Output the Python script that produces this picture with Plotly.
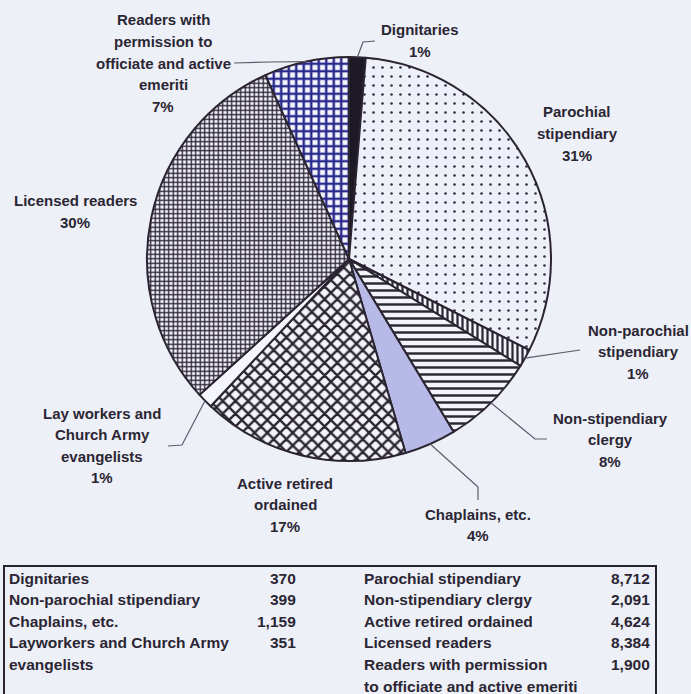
import math
import plotly.graph_objects as go

W, H = 691, 694

# Slice data, clockwise from 12 o'clock
categories = [
    "Dignitaries",
    "Parochial stipendiary",
    "Non-parochial stipendiary",
    "Non-stipendiary clergy",
    "Chaplains, etc.",
    "Active retired ordained",
    "Lay workers and Church Army evangelists",
    "Licensed readers",
    "Readers with permission to officiate and active emeriti",
]
values = [370, 8712, 399, 2091, 1159, 4624, 351, 8384, 1900]
pct_labels = ["1%", "31%", "1%", "8%", "4%", "17%", "1%", "30%", "7%"]

# Wrapped label text for each slice
label_lines = [
    ["Dignitaries"],
    ["Parochial", "stipendiary"],
    ["Non-parochial", "stipendiary"],
    ["Non-stipendiary", "clergy"],
    ["Chaplains, etc."],
    ["Active retired", "ordained"],
    ["Lay workers and", "Church Army", "evangelists"],
    ["Licensed readers"],
    ["Readers with", "permission to", "officiate and active", "emeriti"],
]

# Table beneath the pie (two columns)
table_left_names = ["Dignitaries", "Non-parochial stipendiary", "Chaplains, etc.",
                    "Layworkers and Church Army", "evangelists"]
table_left_values = [370, 399, 1159, 351, None]
table_right_names = ["Parochial stipendiary", "Non-stipendiary clergy",
                     "Active retired ordained", "Licensed readers",
                     "Readers with permission", "to officiate and active emeriti"]
table_right_values = [8712, 2091, 4624, 8384, 1900, None]

# ---- styling ----
BG = "#eef0f8"
INK = "#2b2633"
LEAD = "#5f5a6c"
FONT = "Liberation Sans, Arial, sans-serif"

# pie geometry in pixels
CX, CY, R = 349, 259, 202

fill_colors = ["#1d1a26", "#eef0f8", "#f3f4fa", "#f3f4fa", "#b7bae6",
               "#f3f4fa", "#f5f6fb", "#f3f4fa", "#f6f7fc"]
pattern_shapes = ["", ".", "|", "-", "", "x", "", "+", "+"]
pattern_fg = [INK, "#34304a", INK, INK, INK, "#2a2430", INK, "#2a2233", "#29298e"]
pattern_size = [8, 9, 5, 7, 8, 9, 8, 4.5, 7.5]
pattern_solid = [0.3, 0.07, 0.45, 0.35, 0.3, 0.45, 0.3, 0.5, 0.55]


def px(x):
    return x / W


def py(y):
    return 1 - y / H


fig = go.Figure()
fig.add_trace(go.Pie(
    labels=categories,
    values=values,
    sort=False,
    direction="clockwise",
    rotation=0,
    textinfo="none",
    hoverinfo="label+value+percent",
    showlegend=False,
    domain=dict(x=[px(CX - R), px(CX + R)], y=[py(CY + R), py(CY - R)]),
    marker=dict(
        colors=fill_colors,
        line=dict(color="#2a2430", width=2),
        pattern=dict(shape=pattern_shapes, fgcolor=pattern_fg,
                     bgcolor=fill_colors, size=pattern_size,
                     solidity=pattern_solid),
    ),
))

# label anchor (centre x, first-line y) and leader-line waypoints per slice
label_pos = [(420, 30), (577, 112), (638, 330), (610, 418), (478, 514),
             (285, 483), (102, 413), (75, 201), (163, 20)]
leader_tail = [
    [(363, 42), (375, 41)],
    None,
    [(580, 350)],
    [(535, 439), (547, 439)],
    [(478, 487), (478, 500)],
    None,
    [(182, 445), (168, 446)],
    None,
    [(270, 62), (234, 63)],
]

LINE_STEP = 21.6
annotations = []
shapes = []
total = sum(values)
cum = 0
for i, v in enumerate(values):
    mid = (cum + v / 2) / total * 2 * math.pi
    cum += v
    lx, ly = label_pos[i]
    lines = label_lines[i] + [pct_labels[i]]
    for k, t in enumerate(lines):
        annotations.append(dict(
            x=px(lx), y=py(ly + k * LINE_STEP), xref="paper", yref="paper",
            text=f"<b>{t}</b>", showarrow=False, xanchor="center", yanchor="middle",
            font=dict(family=FONT, size=15, color=INK),
        ))
    if leader_tail[i]:
        ex = CX + R * math.sin(mid)
        ey = CY - R * math.cos(mid)
        pts = [(ex, ey)] + leader_tail[i]
        path = "M " + " L ".join(f"{px(a):.5f},{py(b):.5f}" for a, b in pts)
        shapes.append(dict(type="path", path=path, xref="paper", yref="paper",
                           line=dict(color=LEAD, width=1.2)))

# table box
shapes.append(dict(type="rect", xref="paper", yref="paper",
                   x0=px(4), x1=px(656), y0=py(702), y1=py(566),
                   line=dict(color="#2a2430", width=2), fillcolor="rgba(0,0,0,0)"))

ROW0, ROW_STEP = 578, 21.6
TFONT = dict(family=FONT, size=15.5, color=INK)


def table_cell(x, row, text, anchor):
    annotations.append(dict(
        x=px(x), y=py(ROW0 + row * ROW_STEP), xref="paper", yref="paper",
        text=f"<b>{text}</b>", showarrow=False, xanchor=anchor, yanchor="middle",
        font=TFONT,
    ))


for r, name in enumerate(table_left_names):
    table_cell(7, r, name, "left")
    if table_left_values[r] is not None:
        table_cell(298, r, f"{table_left_values[r]:,}", "right")
for r, name in enumerate(table_right_names):
    table_cell(362, r, name, "left")
    if table_right_values[r] is not None:
        table_cell(652, r, f"{table_right_values[r]:,}", "right")

fig.update_layout(
    width=W, height=H,
    margin=dict(l=0, r=0, t=0, b=0),
    paper_bgcolor=BG,
    plot_bgcolor=BG,
    annotations=annotations,
    shapes=shapes,
)

fig.write_html("out.html")
